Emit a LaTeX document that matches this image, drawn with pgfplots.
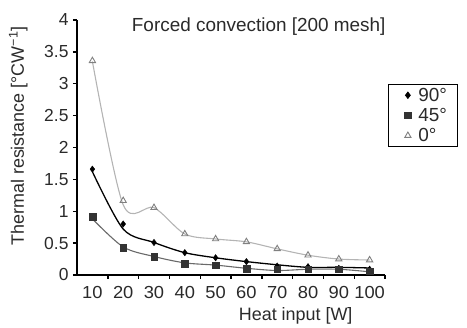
\documentclass[border=0pt]{standalone}
\usepackage{fontspec}
\setmainfont{Liberation Sans}
\usepackage{pgfplots}
\pgfplotsset{compat=1.18}
\definecolor{triline}{HTML}{B4B4B4}
\definecolor{trimark}{HTML}{808080}
\definecolor{sqline}{HTML}{6A6A6A}
\definecolor{sqmark}{HTML}{333333}
\definecolor{txt}{HTML}{2A2A2A}
\begin{document}
\begin{tikzpicture}
\begin{axis}[
  scale only axis,
  width=308bp, height=255bp,
  xmin=5, xmax=105, ymin=0, ymax=4,
  axis lines=left,
  axis line style={line width=1.6bp, -},
  xtick={10,20,...,100},
  major x tick style={draw=none},
  minor xtick={15,25,...,105},
  minor x tick style={line width=1.4bp, black},
  minor tick length=4bp,
  ytick={0,0.5,...,4},
  yticklabels={0,0.5,1,1.5,2,2.5,3,3.5,4},
  major y tick style={line width=1.4bp, black},
  major tick length=4bp,
  tick align=outside,
  /pgf/number format/assume math mode=true,
  tick label style={font=\fontsize{17.5}{20}\selectfont, text=txt},
  xticklabel style={yshift=-4bp, xscale=1.05},
  yticklabel style={xshift=-1bp},
  xlabel={Heat input [W]},
  xlabel style={font=\fontsize{18}{21}\selectfont, text=txt, at={(axis description cs:0.71,0)}, anchor=north, yshift=-29bp},
  ylabel={Thermal resistance [°CW\textsuperscript{−1}]},
  ylabel style={font=\fontsize{18}{21}\selectfont, text=txt, at={(axis description cs:0,0.545)}, anchor=south, yshift=46bp},
  legend style={at={(rel axis cs:1.01,0.749)}, anchor=north west, draw=black, line width=0.8bp, font=\fontsize{19}{21}\selectfont, text=txt, inner xsep=3bp, inner ysep=1.5bp, row sep=1.5bp},
  legend cell align=left,
  legend image code/.code={\path (0bp,0bp) (24bp,0bp); \draw[#1] plot coordinates {(16bp,0bp)};},
  /tikz/every even column/.append style={column sep=3bp},
  clip=false,
]
% curves
\addplot[forget plot, smooth, color=triline, line width=1.1bp] coordinates {
(10,3.35) (20,1.10) (30,1.056) (40,0.643) (50,0.565) (60,0.52) (70,0.41) (80,0.31) (90,0.25) (100,0.235)};
\addplot[forget plot, smooth, color=sqline, line width=1.1bp] coordinates {
(10,0.88) (20,0.44) (30,0.29) (40,0.19) (50,0.155) (60,0.105) (70,0.07) (80,0.09) (90,0.09) (100,0.05)};
\addplot[forget plot, smooth, color=black, line width=1.3bp] coordinates {
(10,1.62) (20,0.72) (30,0.51) (40,0.35) (50,0.27) (60,0.21) (70,0.16) (80,0.12) (90,0.12) (100,0.11)};
% markers
\addplot[only marks, mark=diamond*, mark size=3.2bp, mark options={fill=black, draw=black}] coordinates {
(10,1.66) (20,0.80) (30,0.51) (40,0.35) (50,0.27) (60,0.21) (70,0.14) (80,0.13) (90,0.105) (100,0.09)};
\addlegendentry{90°\hspace*{6bp}}
\addplot[only marks, mark=square*, mark size=3.3bp, mark options={fill=sqmark, draw=sqmark}] coordinates {
(10,0.915) (20,0.43) (30,0.29) (40,0.18) (50,0.155) (60,0.10) (70,0.09) (80,0.09) (90,0.09) (100,0.06)};
\addlegendentry{45°}
\addplot[only marks, mark=triangle, mark size=3.6bp, mark options={draw=trimark, line width=0.9bp}] coordinates {
(10,3.36) (20,1.165) (30,1.056) (40,0.643) (50,0.565) (60,0.52) (70,0.41) (80,0.31) (90,0.25) (100,0.235)};
\addlegendentry{0°}
\node[font=\fontsize{19}{22}\selectfont, text=txt, anchor=center] at (rel axis cs:0.59,0.973) {Forced convection [200 mesh]};
\path (rel axis cs:-0.25,-0.2039) rectangle (rel axis cs:1.2662,1.0784);
\end{axis}
\end{tikzpicture}
\end{document}
